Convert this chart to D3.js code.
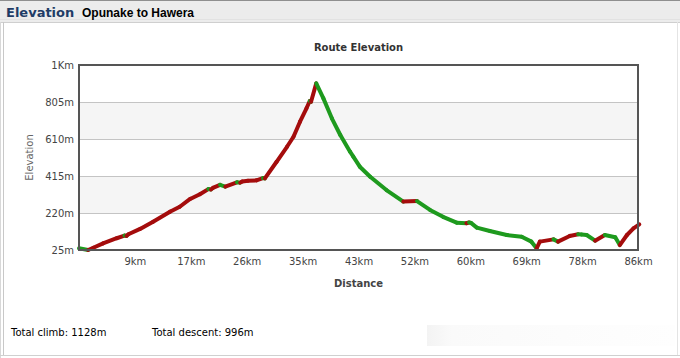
<!DOCTYPE html>
<html><head><meta charset="utf-8">
<script src="https://cdn.jsdelivr.net/npm/d3@7/dist/d3.min.js"></script>
<style>
html,body{margin:0;padding:0;background:#fff;overflow:hidden}
svg{display:block}
</style></head>
<body>
<svg id="c" width="680" height="358"></svg>
<script>
// Data
const distanceKm = [0,1.4,2.2,3.7,5.8,7.0,7.3,7.6,9.4,11.4,14.0,15.5,17.1,18.6,19.9,20.3,20.6,21.7,22.5,24.3,24.8,25.1,26.0,27.3,28.3,28.6,30.4,32.0,33.0,34.0,35.0,35.5,35.7,36.5,37.6,38.9,40.2,41.7,42.2,43.2,44.8,47.3,49.9,52.0,54.0,56.0,58.1,59.6,60.0,60.3,61.2,63.2,65.8,68.1,69.6,70.4,70.9,73.0,73.7,75.5,76.8,77.3,78.1,79.4,80.9,82.5,83.2,84.3,85.3,86.2];
const elevationM = [34,25,37,60,87,101,99,108,136,174,227,253,294,319,346,344,352,368,359,382,380,386,390,392,404,402,490,569,622,701,772,810,806,903,824,719,631,543,517,464,411,341,280,283,236,200,169,166,170,168,143,125,104,95,69,34,69,81,69,99,108,107,104,74,104,92,51,104,139,160];
const yTickValues = [25,220,415,610,805,1000];
const yTickLabels = ["25m","220m","415m","610m","805m","1Km"];
const xTickValues = [8.6,17.2,25.8,34.4,43,51.6,60.2,68.8,77.4,86];
const xTickLabels = ["9km","17km","26km","35km","43km","52km","60km","69km","78km","86km"];
const headerTitle = "Elevation";
const routeName = "Opunake to Hawera";
const chartTitle = "Route Elevation";
const totalClimb = "Total climb: 1128m";
const totalDescent = "Total descent: 996m";

const svg = d3.select("#c");
const font = "Verdana, 'DejaVu Sans', sans-serif";

// page chrome
svg.append("rect").attr("x",0).attr("y",0).attr("width",680).attr("height",358).attr("fill","#ffffff");
svg.append("rect").attr("x",0).attr("y",0).attr("width",680).attr("height",22).attr("fill","#ececec");
svg.append("line").attr("x1",0).attr("x2",680).attr("y1",0.5).attr("y2",0.5).attr("stroke","#8f8f8f");
svg.append("line").attr("x1",0).attr("x2",680).attr("y1",19.5).attr("y2",19.5).attr("stroke","#e2e2e2");
svg.append("line").attr("x1",0).attr("x2",680).attr("y1",22.5).attr("y2",22.5).attr("stroke","#cfcfcf");
svg.append("line").attr("x1",3.5).attr("x2",3.5).attr("y1",22).attr("y2",356).attr("stroke","#c8c8c8");
svg.append("line").attr("x1",0.5).attr("x2",0.5).attr("y1",22).attr("y2",358).attr("stroke","#d8d8d8");
svg.append("line").attr("x1",677.5).attr("x2",677.5).attr("y1",22).attr("y2",356).attr("stroke","#e4e4e4");
svg.append("line").attr("x1",0).attr("x2",680).attr("y1",355.5).attr("y2",355.5).attr("stroke","#d0d0d0");

svg.append("text").attr("x",6).attr("y",17).attr("font-family",font).attr("font-size",13).attr("font-weight","bold")
  .attr("fill","#1f3c66").text(headerTitle);
svg.append("text").attr("x",82).attr("y",17).attr("font-family","Arial, 'Liberation Sans', sans-serif").attr("font-size",12).attr("font-weight","bold")
  .attr("fill","#000").text(routeName);

// faint box bottom right
const defs = svg.append("defs");
const g1 = defs.append("linearGradient").attr("id","fade").attr("x1","0").attr("x2","1");
g1.append("stop").attr("offset","0").attr("stop-color","#f3f3f3");
g1.append("stop").attr("offset","0.1").attr("stop-color","#fafafa");
g1.append("stop").attr("offset","1").attr("stop-color","#fefefe");
svg.append("rect").attr("x",427).attr("y",325).attr("width",248).attr("height",21).attr("fill","url(#fade)");

// chart
const L=79, R=638, T=65, B=250;
const x = d3.scaleLinear().domain([0,86]).range([L,R]);
const y = d3.scaleLinear().domain([25,1000]).range([B,T]);

// bands
for (let i=0;i<yTickValues.length-1;i++){
  if (i===1 || i===3){
    svg.append("rect").attr("x",L).attr("width",R-L)
      .attr("y",y(yTickValues[i+1])).attr("height",y(yTickValues[i])-y(yTickValues[i+1]))
      .attr("fill","#f5f5f5");
  }
}
// grid
svg.append("g").selectAll("line").data(yTickValues.slice(1,-1)).join("line")
  .attr("x1",L).attr("x2",R).attr("y1",d=>Math.round(y(d))+0.5).attr("y2",d=>Math.round(y(d))+0.5)
  .attr("stroke","#c4c4c4").attr("stroke-width",1);

// axes
const yAxis = d3.axisLeft(y).tickValues(yTickValues).tickSize(0).tickPadding(5)
  .tickFormat((d,i)=>yTickLabels[i]);
const ya = svg.append("g").attr("transform",`translate(${L},0)`).call(yAxis);
ya.select(".domain").remove();
ya.selectAll("text").attr("font-family",font).attr("font-size",10).attr("fill","#444");

const xAxis = d3.axisBottom(x).tickValues(xTickValues).tickSize(0).tickPadding(8)
  .tickFormat((d,i)=>xTickLabels[i]);
const xa = svg.append("g").attr("transform",`translate(0,${B})`).call(xAxis);
xa.select(".domain").remove();
xa.selectAll("text").attr("font-family",font).attr("font-size",10).attr("fill","#444");

// line segments
const pts = distanceKm.map((d,i)=>[d, elevationM[i]]);
const segs = [];
for (let i=0;i<pts.length-1;i++) segs.push([pts[i],pts[i+1]]);
svg.append("g").selectAll("line").data(segs).join("line")
  .attr("x1",d=>x(d[0][0])).attr("y1",d=>y(d[0][1]))
  .attr("x2",d=>x(d[1][0])).attr("y2",d=>y(d[1][1]))
  .attr("stroke",d=>d[1][1]>d[0][1] ? "#a40c0c" : "#1e9a1e")
  .attr("stroke-width",4).attr("stroke-linecap","round");

// frame
svg.append("rect").attr("x",L).attr("y",T).attr("width",R-L).attr("height",B-T)
  .attr("fill","none").attr("stroke","#555").attr("stroke-width",2);

// titles
svg.append("text").attr("x",(L+R)/2).attr("y",51).attr("text-anchor","middle").attr("font-family",font)
  .attr("font-size",10).attr("font-weight","bold").attr("fill","#333").text(chartTitle);
svg.append("text").attr("x",(L+R)/2).attr("y",287).attr("text-anchor","middle").attr("font-family",font)
  .attr("font-size",10).attr("font-weight","bold").attr("fill","#444").text("Distance");
svg.append("text").attr("transform",`translate(33,${(T+B)/2}) rotate(-90)`).attr("text-anchor","middle")
  .attr("font-family",font).attr("font-size",10).attr("fill","#666").text("Elevation");

// totals
svg.append("text").attr("x",11).attr("y",336).attr("font-family",font).attr("font-size",10).attr("fill","#000").text(totalClimb);
svg.append("text").attr("x",152).attr("y",336).attr("font-family",font).attr("font-size",10).attr("fill","#000").text(totalDescent);
</script>
</body></html>
